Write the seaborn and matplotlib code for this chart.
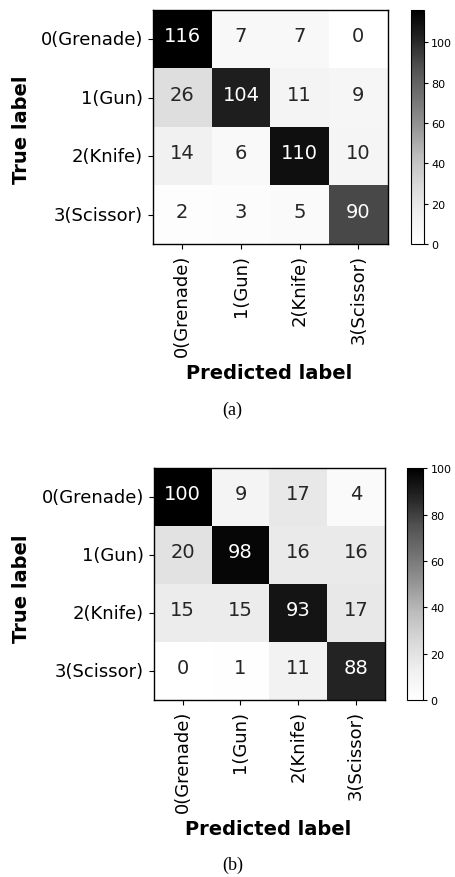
import numpy as np
import pandas as pd
import matplotlib
matplotlib.use("Agg")
import matplotlib.pyplot as plt
import seaborn as sns

# Etiquetas de las clases
class_labels = ["0(Grenade)", "1(Gun)", "2(Knife)", "3(Scissor)"]

# Matrices de confusión (a) y (b)
cm_a = [[116, 7, 7, 0],
        [26, 104, 11, 9],
        [14, 6, 110, 10],
        [2, 3, 5, 90]]
cm_b = [[100, 9, 17, 4],
        [20, 98, 16, 16],
        [15, 15, 93, 17],
        [0, 1, 11, 88]]
captions = ["(a)", "(b)"]

plt.rcParams["font.family"] = ["DejaVu Sans"]

fig = plt.figure(figsize=(4.55, 8.78), dpi=100)

# posiciones de los ejes (figura)
layouts = [
    dict(ax=[0.336, 0.721, 0.516, 0.2665], cax=[0.903, 0.721, 0.028, 0.2665],
         ylab=(0.048, 0.852), xlab=(0.592, 0.575), cap=(0.511, 0.533)),
    dict(ax=[0.338, 0.2016, 0.508, 0.264], cax=[0.895, 0.2016, 0.034, 0.264],
         ylab=(0.048, 0.330), xlab=(0.589, 0.0547), cap=(0.511, 0.0148)),
]


def draw_cm(matrix, lay, caption):
    df = pd.DataFrame(matrix, index=class_labels, columns=class_labels)
    ax = fig.add_axes(lay["ax"])
    cax = fig.add_axes(lay["cax"])
    sns.heatmap(df, ax=ax, cbar_ax=cax, cmap="Greys", annot=True, fmt="d",
                vmin=0, annot_kws={"fontsize": 14})
    # los números quedan un poco por encima del centro
    for t in ax.texts:
        x, y = t.get_position()
        t.set_position((x, y - 0.06))
    # marco negro alrededor
    for sp in ax.spines.values():
        sp.set_visible(True)
        sp.set_color("black")
        sp.set_linewidth(1.0)
    ax.tick_params(axis="both", length=3.5, width=0.8, labelsize=13)
    ax.set_xticklabels(class_labels, rotation=90)
    ax.set_yticklabels(class_labels, rotation=0)
    cbar = ax.collections[0].colorbar
    cbar.outline.set_linewidth(0.8)
    cbar.outline.set_edgecolor("black")
    cbar.ax.tick_params(labelsize=8, length=3, width=0.8, pad=2.5)
    fig.text(lay["ylab"][0], lay["ylab"][1], "True label", rotation=90,
             ha="center", va="center", fontsize=14, fontweight="bold")
    fig.text(lay["xlab"][0], lay["xlab"][1], "Predicted label",
             ha="center", va="center", fontsize=14, fontweight="bold")
    fig.text(lay["cap"][0], lay["cap"][1], caption, ha="center", va="center",
             fontsize=13, family="Liberation Serif")


draw_cm(cm_a, layouts[0], captions[0])
draw_cm(cm_b, layouts[1], captions[1])

fig.savefig("out.png", dpi=100)
